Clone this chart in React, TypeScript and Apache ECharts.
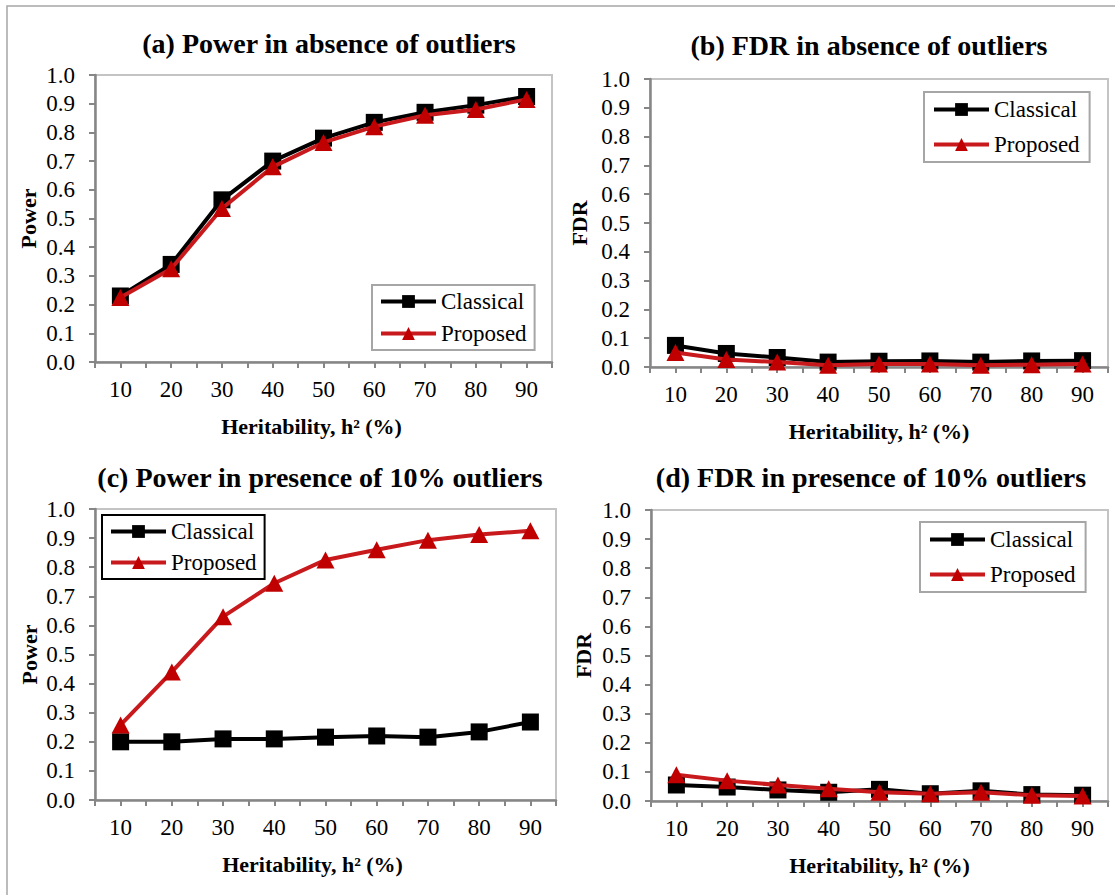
import React, { useEffect, useRef } from 'react';
import * as echarts from 'echarts';

// Heritability h2 (%) on the x axis
const heritability = [10, 20, 30, 40, 50, 60, 70, 80, 90];

// (a) Power in absence of outliers
const aClassical = [0.23, 0.34, 0.565, 0.70, 0.78, 0.835, 0.87, 0.895, 0.925];
const aProposed = [0.225, 0.325, 0.535, 0.68, 0.765, 0.82, 0.86, 0.88, 0.915];
// (b) FDR in absence of outliers
const bClassical = [0.075, 0.047, 0.033, 0.017, 0.02, 0.021, 0.017, 0.021, 0.022];
const bProposed = [0.05, 0.026, 0.017, 0.006, 0.01, 0.01, 0.006, 0.008, 0.01];
// (c) Power in presence of 10% outliers
const cClassical = [0.2, 0.2, 0.21, 0.21, 0.216, 0.22, 0.216, 0.234, 0.268];
const cProposed = [0.258, 0.44, 0.63, 0.745, 0.825, 0.86, 0.893, 0.912, 0.925];
// (d) FDR in presence of 10% outliers
const dClassical = [0.055, 0.048, 0.038, 0.03, 0.04, 0.025, 0.035, 0.022, 0.02];
const dProposed = [0.09, 0.07, 0.055, 0.042, 0.03, 0.025, 0.03, 0.02, 0.017];

const titles = [
  '(a) Power in absence of outliers',
  '(b) FDR in absence of outliers',
  '(c) Power in presence of 10% outliers',
  '(d) FDR in presence of 10% outliers',
];
const yNames = ['Power', 'FDR', 'Power', 'FDR'];
const seriesNames = ['Classical', 'Proposed'];
const xName = 'Heritability, h\u00B2 (%)';

const FONT = "'Liberation Serif', 'Times New Roman', serif";
const AXIS_GRAY = '#868686';

const panels = [
  {
    classical: aClassical, proposed: aProposed,
    grid: { left: 95, top: 75, right: 552, bottom: 362 },
    titlePos: [329, 43], yNameGap: 56, xNameShift: 24,
    legend: { left: 372, top: 285, gap: 9, padding: [5, 8, 5, 7], border: '#a6a6a6' },
  },
  {
    classical: bClassical, proposed: bProposed,
    grid: { left: 650, top: 79, right: 1108, bottom: 367 },
    titlePos: [869, 45], yNameGap: 60, xNameShift: 0,
    legend: { left: 924, top: 92, gap: 12, padding: [6, 10, 6, 8], border: '#a6a6a6' },
  },
  {
    classical: cClassical, proposed: cProposed,
    grid: { left: 95, top: 509, right: 556, bottom: 800 },
    titlePos: [320, 477], yNameGap: 55, xNameShift: 26,
    legend: { left: 102, top: 515, gap: 8, padding: [5, 8, 5, 7], border: '#000' },
  },
  {
    classical: dClassical, proposed: dProposed,
    grid: { left: 651, top: 510, right: 1108, bottom: 801 },
    titlePos: [871, 477], yNameGap: 57, xNameShift: 0,
    legend: { left: 920, top: 522, gap: 12, padding: [6, 10, 6, 8], border: '#a6a6a6' },
  },
];

export default function App() {
  const ref = useRef<HTMLDivElement>(null);
  useEffect(() => {
    if (!ref.current) return;
    const chart = echarts.init(ref.current, undefined, { renderer: 'svg' });

    const grid = panels.map((p) => ({
      left: p.grid.left,
      top: p.grid.top,
      width: p.grid.right - p.grid.left,
      height: p.grid.bottom - p.grid.top,
      show: true,
      borderColor: '#c4c4c4',
      borderWidth: 2,
      backgroundColor: '#fff',
    }));

    const xAxis = panels.map((p, i) => ({
      type: 'value',
      gridIndex: i,
      min: 5,
      max: 95,
      interval: 5,
      name: xName,
      nameLocation: 'middle',
      nameGap: 53,
      nameTextStyle: {
        fontFamily: FONT, fontSize: 22, fontWeight: 'bold', color: '#000',
        padding: [0, p.xNameShift, 0, 0],
      },
      axisLine: { show: true, onZero: false, lineStyle: { color: AXIS_GRAY, width: 2.5 } },
      axisTick: { show: true, length: 6, lineStyle: { color: AXIS_GRAY, width: 2 } },
      axisLabel: {
        margin: 16,
        fontFamily: FONT, fontSize: 23, color: '#000',
        formatter: (v: number) => (v % 10 === 0 ? String(v) : ''),
      },
      splitLine: { show: false },
    }));

    const yAxis = panels.map((p, i) => ({
      type: 'value',
      gridIndex: i,
      min: 0,
      max: 1,
      interval: 0.1,
      name: yNames[i],
      nameLocation: 'middle',
      nameGap: p.yNameGap,
      nameRotate: 90,
      nameTextStyle: { fontFamily: FONT, fontSize: 22, fontWeight: 'bold', color: '#000' },
      axisLine: { show: true, lineStyle: { color: AXIS_GRAY, width: 2.5 } },
      axisTick: { show: true, length: 6, lineStyle: { color: AXIS_GRAY, width: 2 } },
      axisLabel: {
        margin: 20,
        fontFamily: FONT, fontSize: 23, color: '#000',
        formatter: (v: number) => v.toFixed(1),
      },
      splitLine: { show: false },
    }));

    const series: any[] = [];
    panels.forEach((p, i) => {
      series.push({
        type: 'line',
        name: seriesNames[0],
        xAxisIndex: i,
        yAxisIndex: i,
        data: heritability.map((x, j) => [x, p.classical[j]]),
        symbol: 'rect',
        symbolSize: 17,
        lineStyle: { color: '#000', width: 4 },
        itemStyle: { color: '#000' },
        z: 2,
      });
      series.push({
        type: 'line',
        name: seriesNames[1],
        xAxisIndex: i,
        yAxisIndex: i,
        data: heritability.map((x, j) => [x, p.proposed[j]]),
        symbol: 'triangle',
        symbolSize: [18, 17],
        lineStyle: { color: '#c8191c', width: 4 },
        itemStyle: { color: '#c00000' },
        z: 3,
      });
    });

    const legend = panels.map((p) => ({
      data: seriesNames,
      orient: 'vertical',
      left: p.legend.left,
      top: p.legend.top,
      itemWidth: 55,
      itemHeight: 16,
      itemGap: p.legend.gap,
      padding: p.legend.padding,
      borderColor: p.legend.border,
      borderWidth: 2,
      backgroundColor: '#fff',
      selectedMode: false,
      lineStyle: { width: 4 },
      textStyle: { fontFamily: FONT, fontSize: 23, color: '#000' },
    }));

    const graphic: any[] = [
      {
        type: 'rect',
        silent: true,
        z: -10,
        shape: { x: 7, y: 6, width: 1200, height: 1000 },
        style: { fill: 'none', stroke: '#a6a6a6', lineWidth: 1.5 },
      },
      ...panels.map((p, i) => ({
        type: 'text',
        x: p.titlePos[0],
        y: p.titlePos[1],
        silent: true,
        style: {
          text: titles[i],
          textAlign: 'center',
          textVerticalAlign: 'middle',
          fontFamily: FONT,
          fontSize: 28,
          fontWeight: 'bold',
          fill: '#000',
        },
      })),
    ];

    chart.setOption({
      animation: false,
      backgroundColor: '#fff',
      grid,
      xAxis,
      yAxis,
      series,
      legend,
      graphic,
    });
    return () => chart.dispose();
  }, []);

  return (
    <div
      ref={ref}
      style={{ position: 'fixed', left: 0, top: 0, width: 1115, height: 895, background: '#fff' }}
    />
  );
}
